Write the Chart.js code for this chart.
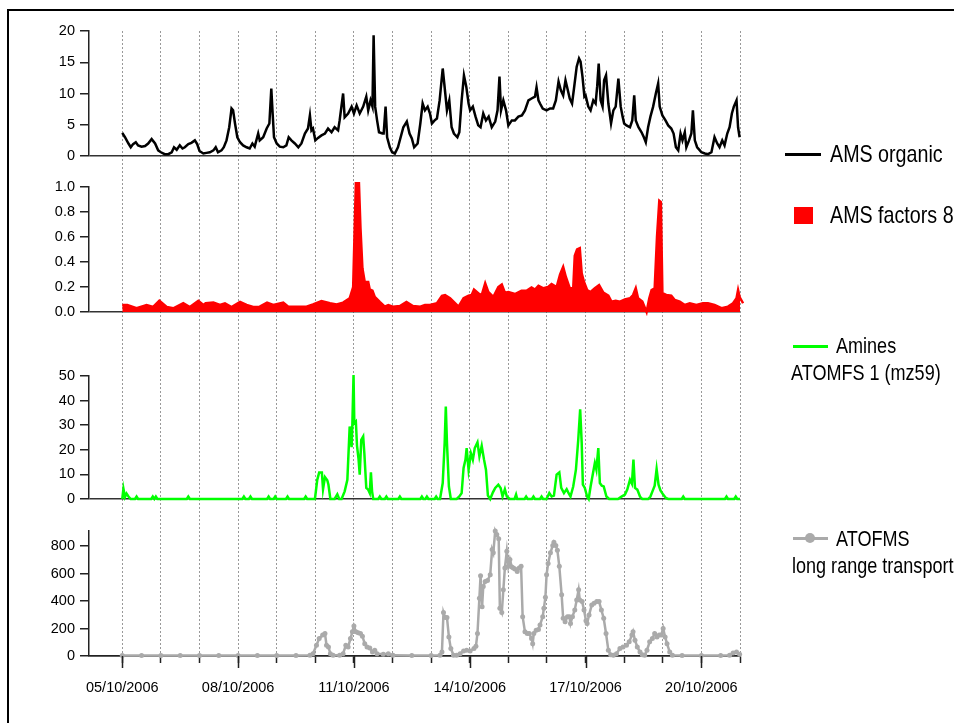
<!DOCTYPE html>
<html>
<head>
<meta charset="utf-8">
<script src="https://cdn.jsdelivr.net/npm/chart.js@4.4.1/dist/chart.umd.min.js"></script>
<style>
  body { margin: 0; width: 954px; height: 723px; overflow: hidden; background: #fff;
         font-family: "Liberation Sans", Arial, sans-serif; }
  #chart { position: absolute; left: 0; top: 0; }
  #frame { position: absolute; left: 7px; top: 9px; width: 1100px; height: 1100px;
           border: 2.5px solid #000; box-sizing: border-box; }
  .leg { position: absolute; white-space: nowrap; color: #000;
         transform: scaleX(0.82); transform-origin: left top; }
  .big { font-size: 24px; line-height: 24px; }
  .small { font-size: 22px; line-height: 22px; }
  .swatch { position: absolute; }
</style>
</head>
<body>
<canvas id="chart" width="954" height="723"></canvas>
<div id="frame"></div>

<div class="swatch" style="left:785px;top:153px;width:36px;height:2.5px;background:#000"></div>
<div class="leg big" style="left:830px;top:142px">AMS organic</div>

<div class="swatch" style="left:794px;top:207px;width:19px;height:17px;background:#ff0000"></div>
<div class="leg big" style="left:830px;top:203px">AMS factors 8</div>

<div class="swatch" style="left:793px;top:345px;width:35px;height:2.5px;background:#00ff00"></div>
<div class="leg small" style="left:836px;top:335px">Amines</div>
<div class="leg small" style="left:791px;top:362px">ATOMFS 1 (mz59)</div>

<div class="swatch" style="left:793px;top:537px;width:35px;height:2.5px;background:#aaaaaa"></div>
<div class="swatch" style="left:805px;top:533px;width:10px;height:10px;border-radius:50%;background:#aaaaaa"></div>
<div class="leg small" style="left:836px;top:528px">ATOFMS</div>
<div class="leg small" style="left:792px;top:555px">long range transport</div>

<script>
// x values are days since 05/10/2006 00:00
const tickDays = [0, 3, 6, 9, 12, 15];
const tickLabels = ['05/10/2006', '08/10/2006', '11/10/2006', '14/10/2006', '17/10/2006', '20/10/2006'];

// AMS organic
const organicDays = [
  0.00, 0.07, 0.16, 0.22, 0.28, 0.35, 0.41, 0.50, 0.59, 0.67,
  0.76, 0.85, 0.93, 1.00, 1.10, 1.19, 1.28, 1.34, 1.41, 1.49,
  1.56, 1.62, 1.71, 1.79, 1.88, 1.94, 2.00, 2.10, 2.18, 2.27,
  2.36, 2.42, 2.48, 2.57, 2.63, 2.70, 2.77, 2.83, 2.87, 2.92,
  2.98, 3.05, 3.13, 3.22, 3.30, 3.37, 3.43, 3.52, 3.56, 3.65,
  3.74, 3.81, 3.86, 3.89, 3.93, 4.00, 4.08, 4.17, 4.25, 4.31,
  4.38, 4.47, 4.56, 4.64, 4.73, 4.81, 4.86, 4.90, 4.94, 5.00,
  5.07, 5.16, 5.25, 5.33, 5.42, 5.50, 5.59, 5.63, 5.72, 5.76,
  5.85, 5.94, 6.00, 6.07, 6.15, 6.24, 6.32, 6.37, 6.43, 6.48,
  6.51, 6.55, 6.60, 6.65, 6.74, 6.77, 6.82, 6.86, 6.93, 6.99,
  7.06, 7.14,
  7.28, 7.37, 7.44, 7.50, 7.56, 7.65, 7.72, 7.78, 7.84, 7.91,
  7.97, 8.02, 8.09, 8.15, 8.22, 8.27, 8.30, 8.34, 8.41, 8.47,
  8.53, 8.59, 8.68, 8.73, 8.79, 8.85, 8.91, 8.97, 9.01, 9.08,
  9.15, 9.22, 9.28, 9.35, 9.42, 9.49, 9.57, 9.66, 9.72, 9.77,
  9.81, 9.87, 9.94, 10.00, 10.09, 10.17, 10.26, 10.35, 10.43, 10.52,
  10.60, 10.69, 10.73, 10.78, 10.82, 10.89, 10.99, 11.08, 11.16, 11.23,
  11.30, 11.36, 11.42, 11.48, 11.53, 11.59, 11.65, 11.70, 11.77, 11.83,
  11.87, 11.92, 11.97, 12.00, 12.07, 12.13, 12.20, 12.26, 12.30, 12.34,
  12.39, 12.44, 12.48, 12.53, 12.59, 12.66, 12.72, 12.78, 12.85, 12.91,
  12.96, 13.00, 13.06, 13.15, 13.21, 13.26, 13.30, 13.37, 13.45, 13.51,
  13.56, 13.62, 13.68, 13.75, 13.82, 13.88, 13.92, 13.99, 14.07, 14.14,
  14.22, 14.28, 14.34, 14.40, 14.46, 14.51, 14.57, 14.61, 14.68, 14.74,
  14.78, 14.83, 14.89, 14.96, 15.00, 15.09, 15.17, 15.26, 15.34, 15.41,
  15.47, 15.54, 15.60, 15.67, 15.73, 15.79, 15.84, 15.91, 15.95, 15.99
];
const organicValues = [
  3.7, 3.0, 2.0, 1.4, 1.9, 2.2, 1.7, 1.5, 1.6, 2.0,
  2.7, 2.0, 0.9, 0.6, 0.3, 0.3, 0.6, 1.4, 1.0, 1.7,
  1.2, 1.4, 1.9, 2.1, 2.5, 1.9, 0.8, 0.4, 0.5, 0.6,
  0.9, 1.4, 0.6, 0.9, 1.4, 2.5, 4.6, 7.6, 7.3, 5.2,
  3.0, 2.2, 1.7, 1.4, 1.2, 2.0, 1.5, 3.6, 2.5, 3.0,
  4.4, 5.2, 10.8, 7.3, 3.0, 2.0, 1.5, 1.4, 1.7, 3.0,
  2.5, 2.0, 1.4, 2.0, 3.6, 4.4, 6.5, 4.1, 4.4, 2.5,
  2.9, 3.3, 3.6, 4.4, 3.8, 4.6, 4.1, 5.7, 10.0, 6.2,
  6.8, 7.9, 6.8, 8.1, 6.8, 7.9, 9.5, 7.3, 8.9, 7.9,
  19.3, 7.9, 5.7, 3.8, 3.6, 3.6, 7.9, 3.0, 1.4, 0.6,
  0.4, 1.4,
  4.6, 5.5, 3.6, 2.8, 1.4, 2.0, 5.2, 8.4, 7.3, 7.9,
  6.8, 5.2, 5.7, 6.0, 8.9, 12.1, 14.0, 11.6, 7.3, 8.9,
  4.6, 3.6, 3.0, 3.8, 8.9, 12.9, 11.1, 8.4, 7.3, 7.9,
  6.3, 4.9, 4.6, 6.8, 5.7, 6.3, 4.6, 5.5, 7.3, 12.7,
  7.3, 8.9, 7.3, 4.9, 5.7, 5.7, 6.3, 6.5, 7.3, 8.9,
  9.2, 9.5, 11.0, 8.9, 8.4, 7.6, 7.3, 7.6, 7.6, 8.9,
  11.9, 10.5, 9.7, 12.1, 10.8, 9.2, 8.4, 10.8, 14.3, 15.6,
  15.1, 12.7, 9.5, 9.7, 7.9, 7.3, 8.9, 8.4, 11.1, 14.8,
  8.9, 7.9, 12.1, 12.9, 8.4, 5.2, 7.3, 7.9, 12.4, 7.9,
  6.3, 5.2, 4.9, 4.6, 5.7, 9.7, 5.7, 4.6, 3.8, 3.0,
  2.2, 4.6, 6.3, 7.9, 10.0, 11.6, 7.9, 6.5, 5.7, 4.9,
  4.4, 3.6, 1.4, 0.9, 3.6, 2.5, 3.8, 1.4, 2.5, 3.6,
  7.3, 2.5, 1.4, 0.9, 0.6, 0.4, 0.3, 0.6, 3.0, 2.0,
  1.4, 2.5, 1.7, 3.6, 4.6, 6.8, 7.9, 8.9, 4.6, 3.0
];

// AMS factors 8
const factorDays = [
  0.00, 0.13, 0.37, 0.63, 0.80, 0.96, 1.15, 1.32, 1.58, 1.75,
  1.97, 2.10, 2.16, 2.36, 2.53, 2.66, 2.83, 3.05, 3.22, 3.39,
  3.56, 3.75, 3.91, 4.17, 4.30, 4.51, 4.77, 4.94, 5.16, 5.38,
  5.55, 5.72, 5.89, 5.98, 6.05, 6.13, 6.17, 6.22, 6.28, 6.37,
  6.41, 6.48, 6.54, 6.67, 6.80, 6.89, 7.01, 7.19, 7.36, 7.53,
  7.72, 7.84, 7.97, 8.15, 8.28, 8.36, 8.49, 8.71, 8.84, 8.97,
  9.05, 9.11, 9.22, 9.31, 9.40, 9.48, 9.61, 9.74, 9.83, 9.91,
  10.00, 10.17, 10.34, 10.47, 10.60, 10.69, 10.78, 10.91, 11.03, 11.12,
  11.25, 11.34, 11.42, 11.49, 11.59, 11.68, 11.72, 11.78, 11.85, 11.90,
  11.96, 12.04, 12.13, 12.24, 12.35, 12.46, 12.59, 12.67, 12.78, 12.89,
  13.02, 13.15, 13.23, 13.30, 13.36, 13.47, 13.58, 13.65, 13.71, 13.79,
  13.85, 13.91, 13.95, 13.99, 14.09, 14.22, 14.31, 14.44, 14.57, 14.70,
  14.87, 15.04, 15.17, 15.34, 15.52, 15.69, 15.82, 15.91, 15.95, 15.99,
  16.08
];
const factorValues = [
  0.056, 0.056, 0.03, 0.056, 0.04, 0.09, 0.04, 0.03, 0.07, 0.04,
  0.09, 0.056, 0.07, 0.075, 0.056, 0.07, 0.04, 0.08, 0.056, 0.04,
  0.043, 0.075, 0.056, 0.075, 0.043, 0.043, 0.043, 0.06, 0.088, 0.07,
  0.06, 0.075, 0.11, 0.2, 1.03, 1.03, 0.67, 0.35, 0.24, 0.24,
  0.18, 0.17, 0.12, 0.08, 0.043, 0.056, 0.043, 0.048, 0.08, 0.048,
  0.043, 0.056, 0.056, 0.07, 0.13, 0.136, 0.11, 0.043, 0.11, 0.13,
  0.136, 0.18, 0.15, 0.136, 0.23, 0.16, 0.12, 0.2, 0.22, 0.155,
  0.16, 0.144, 0.17, 0.17, 0.197, 0.18, 0.21, 0.19, 0.2, 0.224,
  0.2, 0.3, 0.36, 0.28, 0.19, 0.19, 0.45, 0.5, 0.51, 0.31,
  0.24, 0.176, 0.16, 0.19, 0.216, 0.155, 0.13, 0.083, 0.09, 0.083,
  0.1, 0.11, 0.136, 0.19, 0.11, 0.083, 0.0, 0.11, 0.176, 0.19,
  0.6, 0.89, 0.88, 0.15, 0.136, 0.13, 0.096, 0.083, 0.056, 0.07,
  0.056, 0.07, 0.07, 0.056, 0.03, 0.043, 0.07, 0.11, 0.176, 0.12,
  0.07
];

// Amines, ATOFMS mz59
const amineDays = [
  0, 0.03, 0.07, 0.11, 0.16, 0.22,
  0.33, 0.37, 0.41, 0.75, 0.79, 0.83, 0.87, 0.91, 1.67, 1.71, 1.75,
  3.11, 3.15, 3.19, 3.28, 3.32, 3.36, 3.75, 3.79, 3.83, 3.92, 3.96, 4.00,
  4.24, 4.28, 4.32, 4.71, 4.75, 4.79,
  4.99, 5.05, 5.10, 5.17, 5.20, 5.25, 5.31, 5.34, 5.39, 5.50,
  5.57, 5.62, 5.68, 5.76, 5.83, 5.89, 5.94, 5.96, 5.99, 6.01,
  6.05, 6.08, 6.12, 6.15, 6.19, 6.24, 6.27, 6.32, 6.37, 6.41,
  6.44, 6.47, 6.50,
  6.63, 6.67, 6.71, 6.80, 6.84, 6.88, 7.15, 7.19, 7.23,
  7.72, 7.76, 7.80, 7.85, 7.89, 7.93, 8.09, 8.13, 8.17,
  8.23, 8.30, 8.35, 8.38, 8.41, 8.46, 8.51, 8.66, 8.73, 8.79,
  8.84, 8.89, 8.92, 8.97, 9.03, 9.08, 9.13, 9.20, 9.25, 9.31,
  9.37, 9.42, 9.47, 9.53, 9.60, 9.66, 9.74, 9.80, 9.85, 9.91,
  9.96, 10.04,
  10.16, 10.20, 10.23, 10.42, 10.46, 10.50, 10.61, 10.65, 10.69, 10.82, 10.86, 10.90,
  10.99, 11.06, 11.12, 11.18, 11.25, 11.32, 11.37, 11.44, 11.51, 11.55,
  11.61, 11.68, 11.75, 11.81, 11.86, 11.90, 11.93, 11.98, 12.04, 12.08,
  12.13, 12.20, 12.24, 12.28, 12.33, 12.37, 12.42, 12.47, 12.54, 12.61,
  12.84, 12.93, 13.02, 13.08, 13.15, 13.20, 13.24, 13.28, 13.34, 13.41,
  13.47, 13.62, 13.68, 13.75, 13.79, 13.84, 13.89, 13.94, 14.01, 14.08,
  14.14,
  14.49, 14.53, 14.57, 15.61, 15.65, 15.69, 15.85, 15.89, 15.93, 16.0
];
const amineValues = [
  0, 4.2, 0.8, 2.2, 1, 0,
  0, 1, 0, 0, 1, 0, 1, 0, 0, 1, 0,
  0, 1, 0, 0, 1, 0, 0, 1, 0, 0, 1, 0,
  0, 1, 0, 0, 1, 0,
  0, 7.8, 10.8, 10.8, 4, 8.9, 7.6, 5.8, 0, 0,
  1.9, 0, 0, 3.1, 7.8, 29.5, 21.1, 30.8, 50.4, 30.8,
  31.5, 21.6, 16.2, 9.9, 24, 25.4, 18.6, 4.5, 3.8, 2.4,
  10.8, 3.1, 0,
  0, 1, 0, 0, 1, 0, 0, 1, 0,
  0, 1, 0, 0, 1, 0, 0, 1, 0,
  0, 6.5, 22.7, 37.6, 22.7, 5.1, 0, 0, 1, 2.4,
  12.6, 16, 20.7, 11.9, 18.6, 16, 20.7, 23, 17.3, 21.6,
  16, 11.9, 1.4, 0, 2.7, 4.5, 5.8, 4.5, 1, 4,
  1, 0,
  0, 1.8, 0, 0, 1, 0, 0, 1, 0, 0, 1, 0,
  0, 2.4, 1, 1.4, 9.9, 10.8, 4.5, 2.4, 4, 2.7,
  1, 5.1, 11.9, 24, 36.5, 22.7, 5.8, 4.5, 1, 0,
  5.1, 11.2, 14.6, 11.9, 20.7, 6.5, 5.4, 5.1, 1, 0,
  0, 1, 1.8, 3.8, 7.8, 6.2, 16, 4.5, 3.8, 1,
  0, 0, 1, 3.8, 5.4, 12.2, 5.8, 3.5, 1.8, 0.4,
  0,
  0, 1, 0, 0, 1, 0, 0, 1, 0, 0
];

// ATOFMS long range transport
const atofmsDays = [
  0, 0.5, 1, 1.5, 2, 2.5, 3, 3.5, 4, 4.5, 4.86,
  4.94, 5.03, 5.10, 5.19, 5.25, 5.29, 5.34, 5.39, 5.46, 5.63,
  5.72, 5.79, 5.85, 5.91, 5.96, 6.00, 6.05, 6.11, 6.17, 6.22,
  6.28, 6.34, 6.41, 6.48, 6.54, 6.60, 6.76, 6.89, 7.01, 7.5, 8.0,
  8.23, 8.28, 8.32, 8.36, 8.41, 8.46, 8.51, 8.58, 8.66, 8.75,
  8.84, 8.92, 9.01, 9.11, 9.16, 9.20, 9.25, 9.28, 9.32, 9.35,
  9.40, 9.46, 9.53, 9.58, 9.61, 9.66, 9.70, 9.75, 9.78, 9.83,
  9.87, 9.91, 9.96, 10.00, 10.04, 10.09, 10.13, 10.17, 10.23, 10.28,
  10.33, 10.37, 10.43, 10.49, 10.54, 10.60, 10.63, 10.66, 10.72, 10.78,
  10.82, 10.89, 10.92, 10.96, 10.99, 11.03, 11.09, 11.15, 11.18, 11.23,
  11.27, 11.32, 11.38, 11.42, 11.47, 11.53, 11.58, 11.61, 11.66, 11.72,
  11.77, 11.82, 11.85, 11.91, 11.96, 12.01, 12.04, 12.09, 12.16, 12.22,
  12.29, 12.35, 12.41, 12.47, 12.53, 12.59, 12.65, 12.72, 12.80, 12.89,
  12.97, 13.06, 13.13, 13.20, 13.23, 13.28, 13.34, 13.41, 13.47, 13.53,
  13.59, 13.66, 13.73, 13.79, 13.85, 13.91, 13.96, 14.01, 14.06, 14.11,
  14.18, 14.25, 14.5, 15.0, 15.5, 15.73, 15.82, 15.91, 15.99
];
const atofmsValues = [
  3, 3, 3, 3, 3, 3, 3, 3, 3, 3, 5,
  17, 78, 127, 152, 164, 78, 66, 17, 5, 5,
  17, 78, 66, 127, 176, 218, 176, 169, 164, 144,
  90, 66, 59, 29, 42, 17, 12, 17, 5, 3, 3,
  5, 29, 316, 281, 281, 139, 54, 5, 5, 17,
  37, 42, 37, 54, 71, 164, 421, 585, 359, 506,
  543, 550, 592, 775, 751, 910, 885, 854, 347, 316,
  482, 641, 763, 653, 702, 648, 641, 634, 616, 641,
  653, 286, 176, 164, 164, 127, 90, 164, 188, 193,
  225, 286, 347, 428, 592, 673, 751, 805, 829, 805,
  770, 653, 445, 274, 249, 286, 286, 237, 286, 335,
  408, 482, 408, 396, 335, 257, 237, 298, 372, 384,
  396, 396, 335, 274, 164, 42, 10, 5, 17, 54,
  66, 78, 103, 152, 176, 115, 66, 29, 10, 5,
  42, 103, 127, 164, 139, 152, 152, 201, 139, 90,
  29, 5, 3, 3, 3, 5, 22, 29, 12
];

function pairs(xs, ys) {
  return xs.map((x, i) => ({ x: x, y: ys[i] }));
}

Chart.defaults.font.family = "'Liberation Sans', Arial, sans-serif";
Chart.defaults.color = '#000';

function panelAxis(min, max, step, weight, stackWeight, fmt) {
  return {
    type: 'linear', position: 'left', stack: 'panels', stackWeight: stackWeight, weight: weight,
    min: min, max: max,
    afterFit: s => { s.width = 89; },
    border: { display: true, color: '#222', width: 1.5 },
    grid: {
      color: c => (c.tick && c.tick.value === 0) ? '#333' : 'rgba(0,0,0,0)',
      lineWidth: 1.5, tickColor: '#222', tickLength: 9, tickWidth: 1.5
    },
    ticks: { stepSize: step, includeBounds: false, autoSkip: false, padding: 5,
             font: { size: 14.5 }, callback: fmt }
  };
}

function gapAxis(weight, stackWeight) {
  return {
    type: 'linear', position: 'left', stack: 'panels', stackWeight: stackWeight, weight: weight,
    min: 0, max: 1,
    afterFit: s => { s.width = 89; },
    border: { display: false }, grid: { display: false }, ticks: { display: false }
  };
}

// longer marks under the labelled days
const majorTicks = {
  id: 'majorTicks',
  afterDraw(chart) {
    const xs = chart.scales.x, ctx = chart.ctx, b = chart.chartArea.bottom;
    ctx.save();
    ctx.strokeStyle = '#222';
    ctx.lineWidth = 1.5;
    tickDays.forEach(d => {
      const px = Math.round(xs.getPixelForValue(d)) + 0.5;
      ctx.beginPath();
      ctx.moveTo(px, b);
      ctx.lineTo(px, b + 12);
      ctx.stroke();
    });
    ctx.restore();
  }
};

new Chart(document.getElementById('chart'), {
  type: 'line',
  data: {
    datasets: [
      { label: 'AMS organic', data: pairs(organicDays, organicValues), yAxisID: 'y1',
        borderColor: '#000', borderWidth: 2.5, pointRadius: 0, clip: false },
      { label: 'AMS factors 8', data: pairs(factorDays, factorValues), yAxisID: 'y2',
        borderColor: '#ff0000', backgroundColor: '#ff0000', fill: 'origin', borderWidth: 2.5,
        pointRadius: 0, clip: false },
      { label: 'Amines', data: pairs(amineDays, amineValues), yAxisID: 'y3',
        borderColor: '#00ff00', borderWidth: 2.5, pointRadius: 0, clip: false },
      { label: 'ATOFMS', data: pairs(atofmsDays, atofmsValues), yAxisID: 'y4',
        borderColor: '#aaaaaa', borderWidth: 2.5, pointRadius: 2.5, pointBorderWidth: 0,
        pointBackgroundColor: '#aaaaaa', clip: false }
    ]
  },
  options: {
    responsive: false,
    animation: false,
    layout: { padding: { top: 31, right: 214, bottom: 0, left: 0 } },
    plugins: { legend: { display: false }, tooltip: { enabled: false } },
    scales: {
      x: {
        type: 'linear', position: 'bottom', min: -0.862, max: 16,
        afterFit: s => { s.height = 67; },
        border: { display: true, color: '#222', width: 1.5, dash: [2, 2] },
        grid: { color: '#999', lineWidth: 1, tickColor: '#222', tickLength: 7, tickWidth: 1.5, tickBorderDash: [] },
        ticks: {
          stepSize: 1, maxTicksLimit: 40, autoSkip: false, maxRotation: 0, includeBounds: false,
          padding: 16, font: { size: 14.5 },
          callback: v => { const i = tickDays.indexOf(v); return i >= 0 ? tickLabels[i] : ''; }
        }
      },
      y1: panelAxis(0, 20, 5, 7, 125, v => v),
      g1: gapAxis(6, 31),
      y2: panelAxis(0, 1, 0.2, 5, 125, v => v.toFixed(1)),
      g2: gapAxis(4, 64),
      y3: panelAxis(0, 50, 10, 3, 123, v => v),
      g3: gapAxis(2, 32),
      y4: panelAxis(0, 910, 200, 1, 125, v => v)
    }
  },
  plugins: [majorTicks]
});
</script>
</body>
</html>
